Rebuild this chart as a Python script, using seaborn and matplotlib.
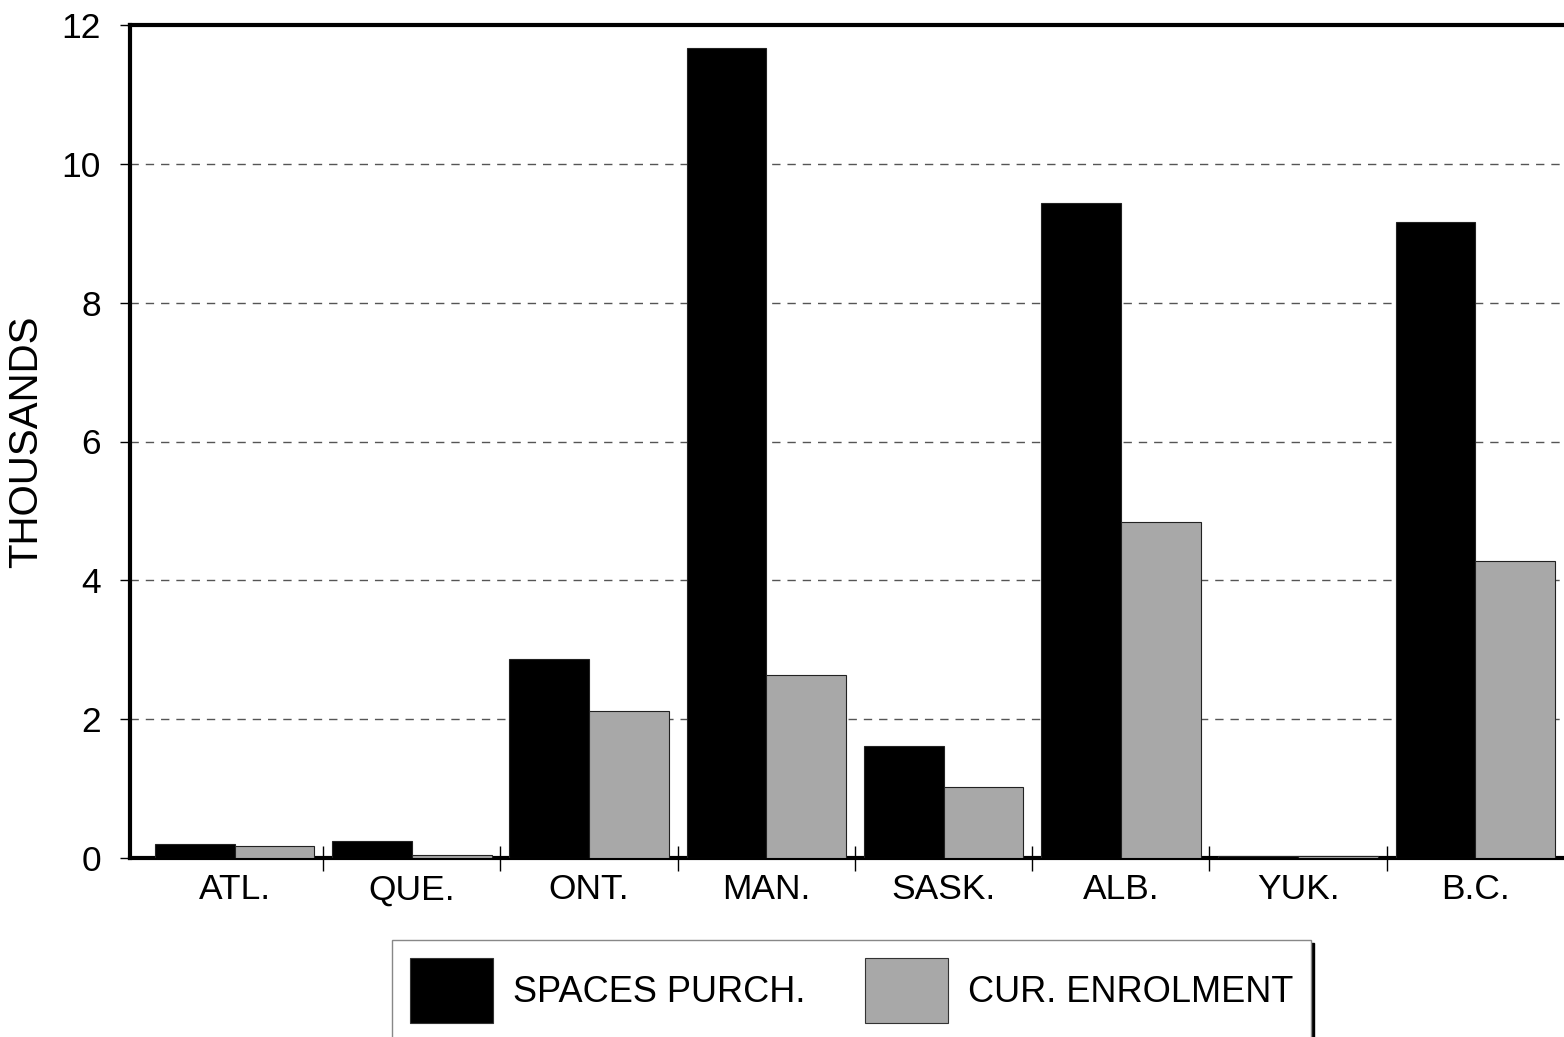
import pandas as pd
import matplotlib
matplotlib.use("Agg")
import matplotlib.pyplot as plt
import seaborn as sns

# values (thousands)
provinces = ["ATL.", "QUE.", "ONT.", "MAN.", "SASK.", "ALB.", "YUK.", "B.C."]
spaces_purch = [0.20, 0.24, 2.86, 11.67, 1.62, 9.44, 0.03, 9.16]
cur_enrolment = [0.17, 0.05, 2.12, 2.63, 1.02, 4.84, 0.03, 4.28]
series_names = ["SPACES PURCH.", "CUR. ENROLMENT"]
series_colors = ["#000000", "#a8a8a8"]
y_ticks = [0, 2, 4, 6, 8, 10, 12]

df = pd.DataFrame({
    "Province": provinces * 2,
    "Value": spaces_purch + cur_enrolment,
    "Series": [series_names[0]] * len(provinces) + [series_names[1]] * len(provinces),
})

sns.set_style("white")
plt.rcParams["font.family"] = ["Liberation Sans", "DejaVu Sans"]
for key in ["text.color", "axes.labelcolor", "xtick.color", "ytick.color"]:
    plt.rcParams[key] = "black"

fig = plt.figure(figsize=(15.64, 10.37), dpi=100)
ax = fig.add_axes([130 / 1564, 1 - 858 / 1037, 1 - 130 / 1564, (858 - 25) / 1037])

sns.barplot(data=df, x="Province", y="Value", hue="Series", order=provinces,
            hue_order=series_names, palette=series_colors, width=0.9,
            edgecolor="#222222", linewidth=0.8, saturation=1, ax=ax, zorder=3)

ax.set_xlim(-0.59, 7.5)
ax.set_ylim(0, 12)
ax.set_yticks(y_ticks)
ax.yaxis.grid(True, linestyle=(0, (6, 5)), color="#555555", linewidth=1.0, zorder=0)
ax.set_axisbelow(True)

ax.set_xlabel("")
ax.set_ylabel("THOUSANDS", fontsize=29, labelpad=12)
ax.tick_params(axis="y", labelsize=25.5, length=7, width=1, direction="out", pad=14, left=True)
ax.tick_params(axis="x", which="major", labelsize=25.5, length=0, pad=11)
ax.set_xticks([i + 0.5 for i in range(len(provinces) - 1)], minor=True)
ax.tick_params(axis="x", which="minor", direction="inout", length=18, width=1, bottom=True)

for side in ["left", "top", "bottom"]:
    ax.spines[side].set_linewidth(3)
    ax.spines[side].set_color("black")
ax.spines["right"].set_visible(False)

ax.get_legend().remove()
handles = [plt.Rectangle((0, 0), 1, 1, facecolor=c, edgecolor="#333333", linewidth=0.8)
           for c in series_colors]
leg = fig.legend(handles, series_names, loc="upper left",
                 bbox_to_anchor=(392 / 1564, 1 - 940 / 1037), ncol=2,
                 fontsize=26, handlelength=2.3, handleheight=2.39,
                 handletextpad=0.55, columnspacing=1.65, borderpad=0.5,
                 borderaxespad=0, frameon=True, fancybox=False, edgecolor="#888888",
                 shadow={"color": "black", "alpha": 1})
leg.get_frame().set_linewidth(1)

fig.savefig("out.png", dpi=100)
